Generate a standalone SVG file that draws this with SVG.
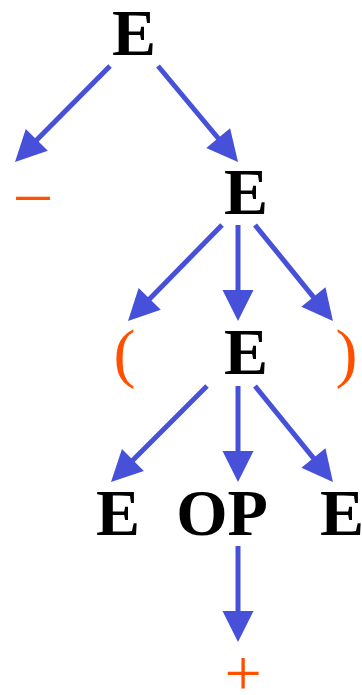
<svg xmlns="http://www.w3.org/2000/svg" width="362" height="695" viewBox="0 0 362 695">
<style>
.n{font-family:"Liberation Serif","Times New Roman",serif;font-weight:bold;font-size:66px;fill:#000;text-anchor:middle}
.t{font-family:"Liberation Serif","Times New Roman",serif;font-size:66px;fill:#FF5000;text-anchor:middle}
.e{stroke:#4650D8;stroke-width:5;fill:none;marker-end:url(#ah)}
</style>
<defs>
<marker id="ah" markerUnits="userSpaceOnUse" markerWidth="40" markerHeight="40" refX="0" refY="15.5" orient="auto" overflow="visible">
<path d="M-3,0 L28,15.5 L-3,31 z" fill="#4650D8"/>
</marker>
</defs>
<g id="connectors">
<line class="e" x1="110" y1="66" x2="34.7" y2="142.1"/>
<line class="e" x1="158" y1="66" x2="220.1" y2="140.5"/>
<line class="e" x1="222" y1="225" x2="147.6" y2="301"/>
<line class="e" x1="238" y1="225" x2="238" y2="293"/>
<line class="e" x1="255" y1="225" x2="315.3" y2="299.3"/>
<line class="e" x1="207" y1="386" x2="130.8" y2="462.2"/>
<line class="e" x1="238" y1="386" x2="238" y2="454"/>
<line class="e" x1="255" y1="386" x2="315.3" y2="460.3"/>
<line class="e" x1="238" y1="546" x2="238" y2="614"/>
</g>
<g id="n1"><text class="n" x="134" y="55">E</text></g>
<g id="n2"><text class="t" x="33" y="214">–</text></g>
<g id="n3"><text class="n" x="246" y="214">E</text></g>
<g id="n4"><text class="t" x="124.5" y="375">(</text></g>
<g id="n5"><text class="n" x="246" y="374">E</text></g>
<g id="n6"><text class="t" x="346.5" y="375">)</text></g>
<g id="n7"><text class="n" x="118" y="535">E</text></g>
<g id="n8"><text class="n" x="222" y="535">OP</text></g>
<g id="n9"><text class="n" x="342" y="535">E</text></g>
<g id="n10"><text class="t" x="243" y="695">+</text></g>
</svg>
